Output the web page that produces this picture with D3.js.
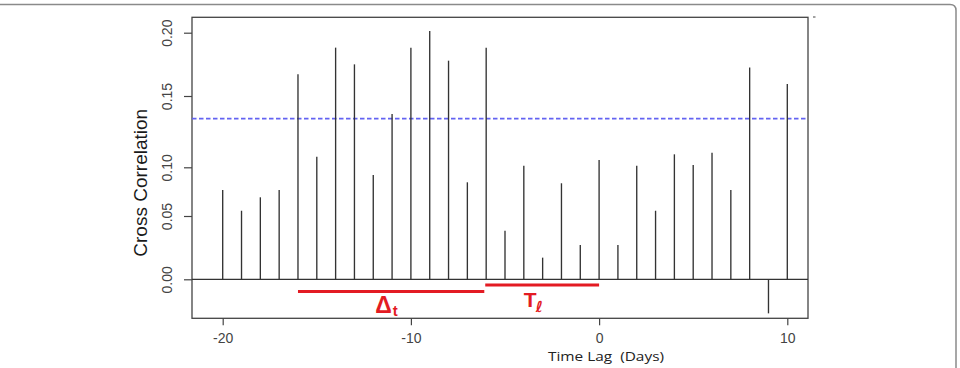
<!DOCTYPE html>
<html>
<head>
<meta charset="utf-8">
<script src="https://cdn.jsdelivr.net/npm/d3@7"></script>
<style>
  html, body { margin: 0; padding: 0; background: #fff; }
  svg { display: block; }
</style>
</head>
<body>
<svg id="chart" width="960" height="368"></svg>
<script>
// ---- data ----
const lags = [-20,-19,-18,-17,-16,-15,-14,-13,-12,-11,-10,-9,-8,-7,-6,-5,-4,-3,-2,-1,0,1,2,3,4,5,6,7,8,9,10];
const corr = [0.0767,0.0554,0.0692,0.0767,0.1671,0.1074,0.1882,0.1750,0.0921,0.1374,0.1882,0.2013,0.1779,0.0846,0.1882,
              0.0384,0.1011,0.0171,0.0836,0.0271,0.1051,0.0271,0.1011,0.0554,0.1091,0.1016,0.1102,0.0767,0.1725,-0.0269,0.1595];
const xTicks = [-20,-10,0,10];
const yTicks = [0.00,0.05,0.10,0.15,0.20];
const significance = 0.1341;
const deltaSpan = [-16, -6.1];
const tellSpan = [-6.05, 0];

// ---- layout ----
const svg = d3.select("#chart");
const box = {left: 192, right: 808, top: 17.3, bottom: 318.3};

const x = d3.scaleLinear().domain([-20, 10]).range([222.7, 787.3]);
// the printed axis is unevenly spaced; piecewise scale reproduces its tick positions
const y = d3.scaleLinear().domain(yTicks).range([279.3, 216, 167.3, 96, 32.7]);

// outer frame
svg.append("path")
  .attr("d", "M0,4.5 H950 Q956,4.5 956,10.5 V368")
  .attr("fill", "none").attr("stroke", "#8a8a8a").attr("stroke-width", 1.5);
svg.append("line").attr("x1", 813).attr("x2", 815.5).attr("y1", 17).attr("y2", 17)
  .attr("stroke", "#444").attr("stroke-width", 1);

// plot box
svg.append("rect")
  .attr("x", box.left).attr("y", box.top)
  .attr("width", box.right - box.left).attr("height", box.bottom - box.top)
  .attr("fill", "none").attr("stroke", "#444").attr("stroke-width", 1.3);

// zero line
svg.append("line")
  .attr("x1", box.left).attr("x2", box.right)
  .attr("y1", y(0)).attr("y2", y(0))
  .attr("stroke", "#333").attr("stroke-width", 1.2);

// significance line
svg.append("line")
  .attr("x1", box.left).attr("x2", box.right)
  .attr("y1", y(significance)).attr("y2", y(significance))
  .attr("stroke", "#6363f2").attr("stroke-width", 1.6)
  .attr("stroke-dasharray", "4.5,2.5");

// spikes
svg.append("g").selectAll("line").data(lags).join("line")
  .attr("x1", d => x(d)).attr("x2", d => x(d))
  .attr("y1", y(0)).attr("y2", (d, i) => y(corr[i]))
  .attr("stroke", "#333").attr("stroke-width", 1.35);

// axes
const yAxis = svg.append("g")
  .attr("transform", `translate(${box.left},0)`)
  .call(d3.axisLeft(y).tickValues(yTicks).tickSize(8).tickFormat(d3.format(".2f")));
yAxis.select(".domain").remove();
yAxis.selectAll(".tick line").attr("stroke", "#444").attr("stroke-width", 1.2);
yAxis.selectAll(".tick text")
  .attr("x", null).attr("dy", null)
  .attr("transform", "translate(-20,0) rotate(-90)")
  .attr("text-anchor", "middle")
  .attr("fill", "#444")
  .style("font-family", "'Liberation Sans', Arial, sans-serif")
  .style("font-size", "14px");

const xAxis = svg.append("g")
  .attr("transform", `translate(0,${box.bottom})`)
  .call(d3.axisBottom(x).tickValues(xTicks).tickSize(7).tickFormat(d => String(d)));
xAxis.select(".domain").remove();
xAxis.selectAll(".tick line").attr("stroke", "#444").attr("stroke-width", 1.2);
xAxis.selectAll(".tick text")
  .attr("y", 25).attr("dy", null)
  .attr("fill", "#444")
  .style("font-family", "'Liberation Sans', Arial, sans-serif")
  .style("font-size", "14px");

// axis titles
svg.append("text")
  .attr("transform", `translate(146.5,${(box.top + box.bottom) / 2 + 15}) rotate(-90)`)
  .attr("text-anchor", "middle")
  .attr("fill", "#1a1a1a")
  .style("font-family", "'Liberation Sans', Arial, sans-serif")
  .style("font-size", "19px")
  .text("Cross Correlation");

svg.append("text")
  .attr("x", 548).attr("y", 360.5)
  .attr("textLength", 116).attr("lengthAdjust", "spacingAndGlyphs")
  .attr("fill", "#222")
  .style("font-family", "'Open Sans', sans-serif")
  .style("font-size", "13.5px")
  .style("white-space", "pre")
  .text("Time Lag  (Days)");

// annotations
const red = "#e31b23";
svg.append("line")
  .attr("x1", x(deltaSpan[0])).attr("x2", x(deltaSpan[1]))
  .attr("y1", y(-0.0097)).attr("y2", y(-0.0097))
  .attr("stroke", red).attr("stroke-width", 3);
svg.append("line")
  .attr("x1", x(tellSpan[0])).attr("x2", x(tellSpan[1]))
  .attr("y1", y(-0.0045)).attr("y2", y(-0.0045))
  .attr("stroke", red).attr("stroke-width", 3);

const dt = svg.append("text")
  .attr("x", x(-11.9)).attr("y", y(-0.0265))
  .attr("fill", red)
  .style("font-family", "'Liberation Sans', Arial, sans-serif")
  .style("font-weight", "bold");
dt.append("tspan").style("font-size", "23px").text("Δ");
dt.append("tspan").style("font-size", "15px").attr("dy", 3).attr("dx", 1).text("t");

const tl = svg.append("text")
  .attr("x", x(-4.0)).attr("y", y(-0.0215))
  .attr("fill", red)
  .style("font-family", "'Liberation Sans', Arial, sans-serif")
  .style("font-weight", "bold");
tl.append("tspan").style("font-size", "21px").text("T");
tl.append("tspan").style("font-size", "15px").style("font-style", "italic")
  .style("font-family", "'DejaVu Sans', sans-serif").attr("dy", 5).attr("dx", -1).text("ℓ");
</script>
</body>
</html>
